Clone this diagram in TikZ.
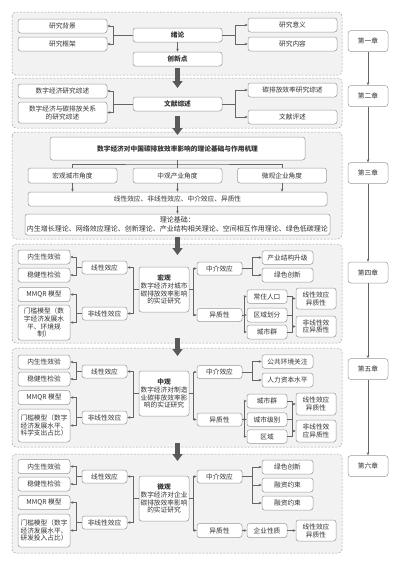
\documentclass[tikz,border=0pt]{standalone}
\usepackage{fontspec}
\setmainfont{Noto Sans CJK SC}
\usetikzlibrary{arrows.meta}
\newcommand\fsz{\fontsize{6.7}{7.9}\selectfont}
\tikzset{
  panel/.style={draw=black!35, dash pattern=on 2pt off 1.5pt, fill=black!5, rounded corners=4pt, line width=0.5pt},
  bx/.style={draw=black!40, fill=white, rounded corners=2.5pt, inner sep=0pt, align=center, font=\fsz, text=black!80, line width=0.5pt},
  ln/.style={draw=black!60, line width=0.5pt},
  arr/.style={ln, -{Stealth[length=3pt,width=2.6pt]}},
  bigarr/.style={draw=black!65, line width=4.2pt, -{Triangle[width=10pt,length=7pt]}},
  ww/.style={minimum width=89, minimum height=14},
  lc/.style={minimum width=52, minimum height=14},
  md/.style={minimum width=45, minimum height=13},
  rt/.style={minimum width=51, minimum height=14},
  sm/.style={minimum width=40, minimum height=14},
  hh/.style={minimum width=40, minimum height=21},
  ctr/.style={minimum width=50, minimum height=45},
  ch/.style={bx, minimum width=40, minimum height=21, rounded corners=3pt},
}
\begin{document}
\begin{tikzpicture}[x=1pt,y=-1pt]
\useasboundingbox[fill=white] (0,0) rectangle (400,566);
% panels
\path[panel] (12,12) rectangle (342,75);
\path[panel] (12,78) rectangle (342,128);
\path[panel] (12,132) rectangle (342,239);
\path[panel] (12,244) rectangle (342,343);
\path[panel] (12,348) rectangle (342,447);
\path[panel] (12,454) rectangle (342,553);
% big arrows
\coordinate (g1a) at (177.5,68); \coordinate (g1b) at (177.5,88);
\coordinate (g2a) at (177.5,116); \coordinate (g2b) at (177.5,135);
\coordinate (g3a) at (177.5,237); \coordinate (g3b) at (177.5,255);
\coordinate (g4a) at (177.5,338); \coordinate (g4b) at (177.5,356);
\coordinate (g5a) at (177.5,443); \coordinate (g5b) at (177.5,461);
\foreach \i in {1,...,5} {\draw[bigarr] (g\i a) -- (g\i b);}
% ---------- panel 1
\node[bx,ww] (bj) at (62.5,26) {研究背景};
\node[bx,ww] (kj) at (62.5,44) {研究框架};
\node[bx,ww] (xl) at (177.5,35) {\bfseries 绪论};
\node[bx,ww] (cx) at (177.5,59) {\bfseries 创新点};
\node[bx,ww] (yy) at (292.5,25) {研究意义};
\node[bx,ww] (nr) at (292.5,44) {研究内容};
\coordinate (p1l) at (113,35); \coordinate (p1r) at (235,35);
\draw[arr] (xl.west) -- (p1l) |- (bj.east);
\draw[arr] (p1l) |- (kj.east);
\draw[arr] (xl.east) -- (p1r) |- (yy.west);
\draw[arr] (p1r) |- (nr.west);
\draw[arr] (xl.south) -- (cx.north);
% ---------- panel 2
\node[bx,ww] (sz) at (62.5,91) {数字经济研究综述};
\node[bx,ww,minimum height=21] (gx) at (62.5,112.5) {数字经济与碳排放关系\\的研究综述};
\node[bx,ww] (wx) at (177.5,104) {\bfseries 文献综述};
\node[bx,ww] (tp) at (292.5,90) {碳排放效率研究综述};
\node[bx,ww] (wp) at (292.5,117) {文献评述};
\coordinate (p2l) at (113,104); \coordinate (p2r) at (235,104);
\draw[arr] (wx.west) -- (p2l) |- (sz.east);
\draw[arr] (p2l) |- (gx.east);
\draw[arr] (wx.east) -- (p2r) |- (tp.west);
\draw[arr] (p2r) |- (wp.west);
% ---------- panel 3
\node[bx,minimum width=255,minimum height=23] (tt) at (177.5,148.5) {\bfseries 数字经济对中国碳排放效率影响的理论基础与作用机理};
\node[bx,ww,minimum height=15] (hg) at (72.5,175.5) {宏观城市角度};
\node[bx,ww,minimum height=15] (zg) at (177.5,175.5) {中观产业角度};
\node[bx,ww,minimum height=15] (wg) at (282,175.5) {微观企业角度};
\node[bx,minimum width=299,minimum height=14] (xx) at (177.5,199) {线性效应、非线性效应、中介效应、异质性};
\node[bx,minimum width=305,minimum height=21,font=\fontsize{7}{8.4}\selectfont] (ll) at (177.5,224.5) {理论基础：\\内生增长理论、网络效应理论、创新理论、产业结构相关理论、空间相互作用理论、绿色低碳理论};
\coordinate (jt) at (177.5,164);
\draw[ln] (tt.south) -- (jt);
\draw[ln] (hg.north) |- (jt) -| (wg.north);
\draw[ln] (jt) -- (zg.north);
\draw[arr] (hg.south) -- (hg.south |- xx.north);
\draw[arr] (zg.south) -- (zg.south |- xx.north);
\draw[arr] (wg.south) -- (wg.south |- xx.north);
\draw[arr] (xx.south) -- (ll.north);
% ---------- panel 4
\node[bx,lc] (d1) at (44,257) {内生性效验};
\node[bx,lc] (d2) at (44,275) {稳健性检验};
\node[bx,lc] (d3) at (44,294.5) {MMQR 模型};
\node[bx,lc,minimum height=35] (d4) at (44,322.5) {门槛模型（数\\字经济发展水\\平、环境规\\制）};
\node[bx,md] (d5) at (104.5,267.5) {线性效应};
\node[bx,md] (d6) at (104.5,313.5) {非线性效应};
\node[bx,ctr] (d7) at (164,289.5) {\bfseries 宏观\\数字经济对城市\\碳排放效率影响\\的实证研究};
\node[bx,md] (d8) at (219.5,268.5) {中介效应};
\node[bx,md] (d9) at (219.5,315) {异质性};
\node[bx,rt,minimum height=13.5] (d10) at (287.5,257.5) {产业结构升级};
\node[bx,rt] (d11) at (287.5,275) {绿色创新};
\node[bx,sm,minimum height=13.5] (d12) at (267,296.5) {常住人口};
\node[bx,sm] (d13) at (267,315) {区域划分};
\node[bx,sm] (d14) at (267,332) {城市群};
\node[bx,hh] (d15) at (316,298.5) {线性效应\\异质性};
\node[bx,hh] (d16) at (316,326.5) {非线性效\\应异质性};
\coordinate (e1) at (76,267.5); \coordinate (e2) at (76,313.5);
\coordinate (e3) at (133,289.5); \coordinate (e4) at (193,289.5);
\coordinate (e5) at (252,268.5); \coordinate (e6) at (244,315);
\coordinate (e7) at (292,315);
\draw[arr] (d5.west) -- (e1) |- (d1.east);
\draw[arr] (e1) |- (d2.east);
\draw[arr] (d6.west) -- (e2) |- (d3.east);
\draw[arr] (e2) |- (d4.east);
\draw[arr] (d7.west) -- (e3) |- (d5.east);
\draw[arr] (e3) |- (d6.east);
\draw[arr] (d7.east) -- (e4) |- (d8.west);
\draw[arr] (e4) |- (d9.west);
\draw[arr] (d8.east) -- (e5) |- (d10.west);
\draw[arr] (e5) |- (d11.west);
\draw[arr] (d9.east) -- (e6) |- (d12.west);
\draw[arr] (e6) -- (d13.west);
\draw[arr] (e6) |- (d14.west);
\draw[ln] (d12.east) -| (e7);
\draw[ln] (d14.east) -| (e7);
\draw[ln] (d13.east) -- (e7);
\draw[arr] (e7 |- d15.west) -- (d15.west);
\draw[arr] (e7 |- d16.west) -- (d16.west);
% ---------- panel 5
\node[bx,lc] (m1) at (44,362) {内生性效验};
\node[bx,lc] (m2) at (44,379) {稳健性检验};
\node[bx,lc] (m3) at (44,397.5) {MMQR 模型};
\node[bx,lc,minimum height=33] (m4) at (44,425.5) {门槛模型（数字\\经济发展水平、\\科学支出占比）};
\node[bx,md] (m5) at (104.5,371.5) {线性效应};
\node[bx,md] (m6) at (104.5,417.5) {非线性效应};
\node[bx,ctr] (m7) at (164,393.5) {\bfseries 中观\\数字经济对制造\\业碳排放效率影\\响的实证研究};
\node[bx,md] (m8) at (219.5,372) {中介效应};
\node[bx,md] (m9) at (219.5,419.5) {异质性};
\node[bx,rt,minimum height=13.5] (m10) at (287.5,361.5) {公共环境关注};
\node[bx,rt] (m11) at (287.5,380) {人力资本水平};
\node[bx,sm] (m12) at (267,401) {城市群};
\node[bx,sm,minimum height=13.5] (m13) at (267,419.5) {城市级别};
\node[bx,sm,minimum height=13.5] (m14) at (267,436.5) {区域};
\node[bx,hh,minimum height=22] (m15) at (316,404) {线性效应\\异质性};
\node[bx,hh,minimum height=22] (m16) at (316,431) {非线性效\\应异质性};
\coordinate (f1) at (76,371.5); \coordinate (f2) at (76,417.5);
\coordinate (f3) at (133,393.5); \coordinate (f4) at (193,393.5);
\coordinate (f5) at (252,372); \coordinate (f6) at (244,419.5);
\coordinate (f7) at (292,419.5);
\draw[arr] (m5.west) -- (f1) |- (m1.east);
\draw[arr] (f1) |- (m2.east);
\draw[arr] (m6.west) -- (f2) |- (m3.east);
\draw[arr] (f2) |- (m4.east);
\draw[arr] (m7.west) -- (f3) |- (m5.east);
\draw[arr] (f3) |- (m6.east);
\draw[arr] (m7.east) -- (f4) |- (m8.west);
\draw[arr] (f4) |- (m9.west);
\draw[arr] (m8.east) -- (f5) |- (m10.west);
\draw[arr] (f5) |- (m11.west);
\draw[arr] (m9.east) -- (f6) |- (m12.west);
\draw[arr] (f6) -- (m13.west);
\draw[arr] (f6) |- (m14.west);
\draw[ln] (m12.east) -| (f7);
\draw[ln] (m14.east) -| (f7);
\draw[ln] (m13.east) -- (f7);
\draw[arr] (f7 |- m15.west) -- (m15.west);
\draw[arr] (f7 |- m16.west) -- (m16.west);
% ---------- panel 6
\node[bx,lc] (w1) at (44,466.5) {内生性效验};
\node[bx,lc] (w2) at (44,484) {稳健性检验};
\node[bx,lc] (w3) at (44,502.5) {MMQR 模型};
\node[bx,lc,minimum height=33] (w4) at (44,530.5) {门槛模型（数字\\经济发展水平、\\研发投入占比）};
\node[bx,md] (w5) at (104.5,476.5) {线性效应};
\node[bx,md] (w6) at (104.5,522.5) {非线性效应};
\node[bx,ctr] (w7) at (164,498.5) {\bfseries 微观\\数字经济对企业\\碳排放效率影响\\的实证研究};
\node[bx,md] (w8) at (219.5,476.5) {中介效应};
\node[bx,md,minimum height=14] (w9) at (219.5,530.5) {异质性};
\node[bx,rt] (w10) at (287.5,467) {绿色创新};
\node[bx,rt] (w11) at (287.5,485) {融资约束};
\node[bx,rt] (w12) at (287.5,503) {融资约束};
\node[bx,sm] (w13) at (267,530.5) {企业性质};
\node[bx,hh] (w14) at (316,530.5) {线性效应\\异质性};
\coordinate (h1) at (76,476.5); \coordinate (h2) at (76,522.5);
\coordinate (h3) at (133,498.5); \coordinate (h4) at (193,498.5);
\coordinate (h5) at (252,476.5);
\draw[arr] (w5.west) -- (h1) |- (w1.east);
\draw[arr] (h1) |- (w2.east);
\draw[arr] (w6.west) -- (h2) |- (w3.east);
\draw[arr] (h2) |- (w4.east);
\draw[arr] (w7.west) -- (h3) |- (w5.east);
\draw[arr] (h3) |- (w6.east);
\draw[arr] (w7.east) -- (h4) |- (w8.west);
\draw[arr] (h4) |- (w9.west);
\draw[arr] (w8.east) -- (h5) |- (w10.west);
\draw[arr] (h5) |- (w11.west);
\draw[arr] (h5) |- (w12.west);
\draw[arr] (w9.east) -- (w13.west);
\draw[arr] (w13.east) -- (w14.west);
% ---------- chapters
\node[ch] (c1) at (368,41) {第一章};
\node[ch] (c2) at (368,96) {第二章};
\node[ch] (c3) at (368,173) {第三章};
\node[ch] (c4) at (368,272.5) {第四章};
\node[ch] (c5) at (368,369) {第五章};
\node[ch] (c6) at (368,466) {第六章};
\draw[arr] (c1) -- (c2);
\draw[arr] (c2) -- (c3);
\draw[arr] (c3) -- (c4);
\draw[arr] (c4) -- (c5);
\draw[arr] (c5) -- (c6);
\end{tikzpicture}
\end{document}
